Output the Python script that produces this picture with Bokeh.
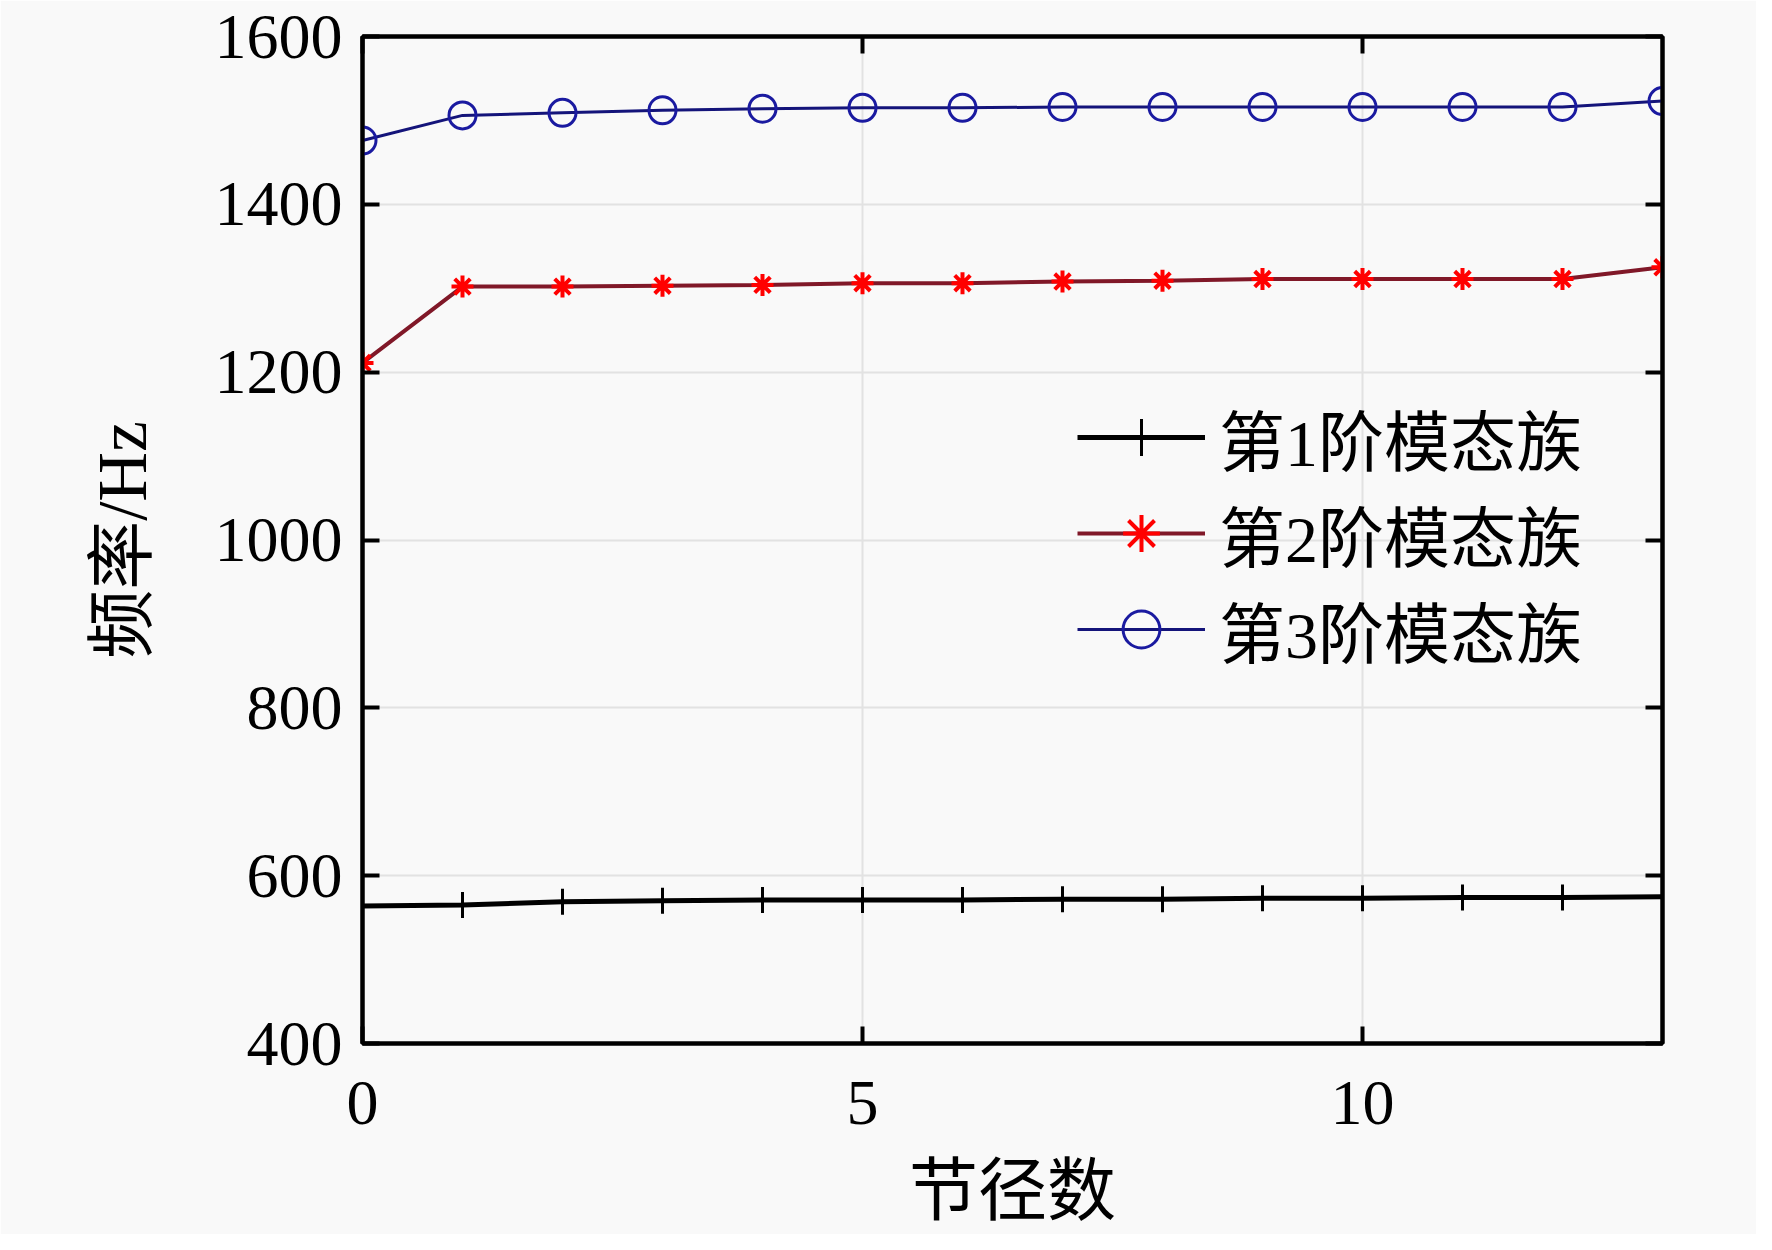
from bokeh.plotting import figure
from bokeh.models import LinearAxis, Legend, LegendItem, Range1d, FixedTicker
from bokeh.embed import file_html
from bokeh.resources import INLINE

# ---- data ----
nodal_diameters = list(range(14))
mode1 = [564, 565, 569, 570, 571, 571, 571, 572, 572, 573, 573, 574, 574, 575]
mode2 = [1211, 1302, 1302, 1303, 1304, 1306, 1306, 1308, 1309, 1311, 1311, 1311, 1311, 1325]
mode3 = [1476, 1506, 1509, 1512, 1514, 1515, 1515, 1516, 1516, 1516, 1516, 1516, 1516, 1523]
labels = ["第1阶模态族", "第2阶模态族", "第3阶模态族"]
x_ticks = [0, 5, 10]
y_ticks = [400, 600, 800, 1000, 1200, 1400, 1600]
x_label = "节径数"
y_label = "频率/Hz"

FONT = "'Liberation Serif', 'Noto Sans CJK SC'"
BG = "#f9f9f9"

p = figure(width=1756, height=1234, output_backend="svg", toolbar_location=None,
           x_range=Range1d(0, 13), y_range=Range1d(400, 1600),
           x_axis_location=None, y_axis_location=None)
p.min_border_left = 362
p.min_border_right = 94
p.min_border_top = 36
p.min_border_bottom = 191
p.background_fill_color = BG
p.border_fill_color = BG
p.outline_line_color = "black"
p.outline_line_width = 4

def style_axis(ax, ticks, show_labels):
    ax.ticker = FixedTicker(ticks=ticks)
    ax.axis_line_width = 4
    ax.axis_line_color = "black"
    ax.major_tick_in = 17
    ax.major_tick_out = 0
    ax.major_tick_line_width = 4
    ax.minor_tick_line_color = None
    ax.major_label_text_font = FONT
    ax.major_label_text_font_size = "64px"
    ax.major_label_text_color = "black"
    ax.axis_label_text_font = FONT
    ax.axis_label_text_font_size = "69px"
    ax.axis_label_text_font_style = "normal"
    ax.axis_label_text_color = "black"
    if not show_labels:
        ax.major_label_overrides = {t: "" for t in ticks}

xb = LinearAxis(axis_label=x_label)
style_axis(xb, x_ticks, True)
xb.major_label_standoff = 38
xb.axis_label_standoff = 27
xb.axis_label_text_line_height = 0.8
p.add_layout(xb, "below")

xt = LinearAxis()
style_axis(xt, x_ticks, False)
p.add_layout(xt, "above")

yl = LinearAxis(axis_label=y_label)
style_axis(yl, y_ticks, True)
yl.major_label_standoff = 20
yl.axis_label_standoff = 51
p.add_layout(yl, "left")

yr = LinearAxis()
style_axis(yr, y_ticks, False)
p.add_layout(yr, "right")

p.xgrid.ticker = FixedTicker(ticks=x_ticks)
p.ygrid.ticker = FixedTicker(ticks=y_ticks)
for g in (p.xgrid, p.ygrid):
    g.grid_line_color = "#e2e2e2"
    g.grid_line_width = 2

l1 = p.line(nodal_diameters, mode1, line_color="black", line_width=5)
m1 = p.scatter(nodal_diameters, mode1, marker="cross", size=26, line_color="black", line_width=3)
l2 = p.line(nodal_diameters, mode2, line_color="#801828", line_width=4)
m2 = p.scatter(nodal_diameters, mode2, marker="asterisk", size=22, line_color="#ff0000", line_width=4)
l3 = p.line(nodal_diameters, mode3, line_color="#14147a", line_width=3)
m3 = p.scatter(nodal_diameters, mode3, marker="circle", size=27, line_color="#1a1aa0",
               fill_color=None, line_width=3)

legend = Legend(items=[LegendItem(label=labels[0], renderers=[l1, m1]),
                       LegendItem(label=labels[1], renderers=[l2, m2]),
                       LegendItem(label=labels[2], renderers=[l3, m3])],
                location=(715, 366))
legend.background_fill_alpha = 0
legend.border_line_color = None
legend.padding = 0
legend.margin = 0
legend.spacing = 0
legend.glyph_width = 128
legend.glyph_height = 92
legend.label_height = 92
legend.label_standoff = 14
legend.label_text_font = FONT
legend.label_text_font_size = "66px"
legend.label_text_color = "black"
p.add_layout(legend, "center")

open("out.html", "w").write(file_html(p, INLINE))
